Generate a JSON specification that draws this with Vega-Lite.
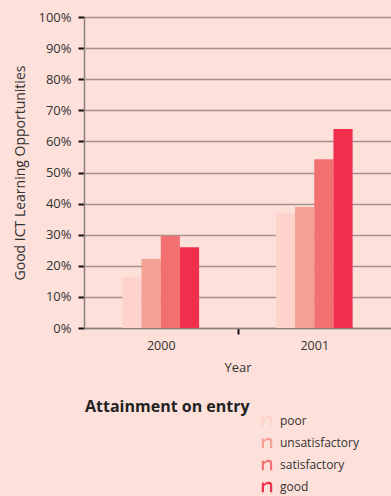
{
  "$schema": "https://vega.github.io/schema/vega-lite/v6.json",
  "width": 307,
  "height": 311,
  "autosize": {"type": "none"},
  "padding": {"left": 84, "top": 17, "right": 0, "bottom": 168},
  "background": "#fde0da",
  "config": {
    "view": {"stroke": null},
    "font": "Open Sans",
    "axis": {"labelFont": "Open Sans", "titleFont": "Open Sans", "labelColor": "#333333", "titleColor": "#333333", "titleFontWeight": "normal"}
  },
  "data": {
    "values": [
      {"Year": "2000", "Attainment": "poor", "value": 0.164},
      {"Year": "2000", "Attainment": "unsatisfactory", "value": 0.222},
      {"Year": "2000", "Attainment": "satisfactory", "value": 0.296},
      {"Year": "2000", "Attainment": "good", "value": 0.26},
      {"Year": "2001", "Attainment": "poor", "value": 0.37},
      {"Year": "2001", "Attainment": "unsatisfactory", "value": 0.389},
      {"Year": "2001", "Attainment": "satisfactory", "value": 0.543},
      {"Year": "2001", "Attainment": "good", "value": 0.64}
    ]
  },
  "mark": {"type": "bar"},
  "encoding": {
    "x": {
      "field": "Year", "type": "nominal",
      "scale": {"paddingInner": 0, "paddingOuter": 0},
      "axis": {"title": "Year", "labelAngle": 0, "labelFontSize": 12.5, "titleFontSize": 13, "titlePadding": 10, "labelPadding": 5,
        "tickBand": "extent",
        "tickColor": {"condition": {"test": "datum.value === '2000'", "value": "#111111"}, "value": "transparent"},
        "tickWidth": 2, "tickSize": 6, "domainColor": "#8c7f7c", "domainWidth": 1.5, "grid": false}
    },
    "xOffset": {"field": "Attainment", "type": "nominal",
      "scale": {"domain": ["_a", "_b", "poor", "unsatisfactory", "satisfactory", "good", "_c", "_d"], "paddingInner": 0, "paddingOuter": 0}},
    "y": {
      "field": "value", "type": "quantitative",
      "scale": {"domain": [0, 1], "nice": false},
      "axis": {"title": "Good ICT Learning Opportunities", "format": "%", "tickCount": 10, "labelFontSize": 13, "titleFontSize": 14, "titlePadding": 10, "labelPadding": 7,
        "tickColor": "#111111", "tickWidth": 2, "tickSize": 6, "domainColor": "#8c7f7c", "domainWidth": 1.5,
        "grid": true, "gridColor": "#a8918c", "gridWidth": 1.5}
    },
    "color": {
      "field": "Attainment", "type": "nominal",
      "sort": ["poor", "unsatisfactory", "satisfactory", "good"],
      "scale": {"domain": ["poor", "unsatisfactory", "satisfactory", "good"], "range": ["#fdd3cb", "#f5a095", "#f27170", "#ef2f4b"]},
      "legend": {
        "title": "Attainment on entry",
        "orient": "none", "legendX": 1, "legendY": 395,
        "direction": "vertical",
        "titleOrient": "left", "titleAnchor": "start", "titleBaseline": "alphabetic", "titleFontSize": 16, "titleFontWeight": "bold", "titleColor": "#222222", "titlePadding": 8,
        "titleFont": "Open Sans",
        "labelFontSize": 12, "labelColor": "#333333", "labelFont": "Open Sans",
        "symbolType": "M -0.6 0.6 L -0.6 -0.5 L -0.35 -0.5 L -0.35 -0.35 Q -0.1 -0.6 0.2 -0.6 Q 0.6 -0.6 0.6 -0.2 L 0.6 0.6 L 0.35 0.6 L 0.35 -0.2 Q 0.35 -0.35 0.15 -0.35 Q -0.15 -0.35 -0.35 -0.1 L -0.35 0.6 Z",
        "symbolSize": 300, "symbolStrokeWidth": 0, "rowPadding": 7, "labelOffset": 4
      }
    }
  }
}
